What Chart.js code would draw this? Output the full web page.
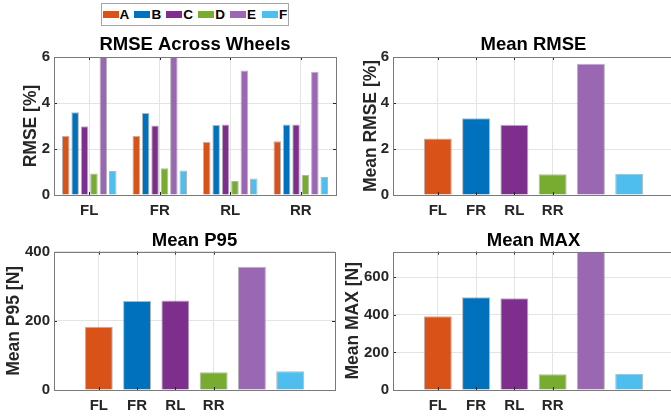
<!DOCTYPE html>
<html>
<head>
<meta charset="utf-8">
<script src="https://cdn.jsdelivr.net/npm/chart.js@4/dist/chart.umd.min.js"></script>
<style>
  html, body { margin: 0; padding: 0; background: #fff; overflow: hidden; }
  #fig { position: relative; width: 671px; height: 417px; overflow: hidden; background: #fff; }
  #fig canvas { position: absolute; }
  #legend {
    position: absolute; left: 101px; top: 3px; width: 185px; height: 21px;
    border: 1px solid #a6a6a6; background: #fff; box-sizing: content-box;
    display: flex; align-items: center; padding-left: 0.5px; z-index: 2;
    font: bold 13.5px "Liberation Sans", Arial, sans-serif; color: #000;
  }
  #legend .item { display: flex; align-items: center; width: 31.9px; flex: none; }
  #legend .item:last-child { width: auto; }
  #legend .swatch { display: inline-block; width: 16px; height: 7px; margin-right: 1px; }
</style>
</head>
<body>
<div id="fig">
  <div id="legend"></div>
  <canvas id="cWheels" width="340" height="220" style="left:0;top:0"></canvas>
  <canvas id="cMeanRmse" width="340" height="220" style="left:340px;top:0"></canvas>
  <canvas id="cMeanP95" width="340" height="197" style="left:0;top:220px"></canvas>
  <canvas id="cMeanMax" width="340" height="197" style="left:340px;top:220px"></canvas>
</div>
<script>
// ---- data ----
const wheels = ['FL', 'FR', 'RL', 'RR'];
const methods = ['A', 'B', 'C', 'D', 'E', 'F'];

// RMSE [%] per method, one value per wheel (FL, FR, RL, RR)
const rmseA = [2.56, 2.56, 2.30, 2.34];
const rmseB = [3.60, 3.57, 3.04, 3.07];
const rmseC = [2.99, 3.02, 3.06, 3.07];
const rmseD = [0.93, 1.16, 0.61, 0.87];
const rmseE = [6.00, 6.00, 5.41, 5.36];
const rmseF = [1.04, 1.07, 0.72, 0.78];

// means over the four wheels, one value per method (A..F)
const meanRmse = [2.46, 3.34, 3.05, 0.90, 5.71, 0.92];
const meanP95  = [183, 257, 259, 51, 356, 54];
const meanMax  = [392, 493, 488, 84, 736, 87];

// y-axis ticks
const rmseTicks = [0, 2, 4, 6];
const p95Ticks  = [0, 200, 400];
const maxTicks  = [0, 200, 400, 600];

// ---- styling ----
const methodColors = ['#D95319', '#0072BD', '#7E2F8E', '#77AC30', '#9A67B3', '#4DBEEE'];
const edgeColor = 'rgba(120,120,120,0.55)';
const gridColor = '#e4e4e4';
const inkColor = '#262626';
const FAMILY = '"Liberation Sans", Arial, Helvetica, sans-serif';
const titleFont = { family: FAMILY, size: 18.5, weight: 'bold' };
const labelFont = { family: FAMILY, size: 17.5, weight: 'bold' };
const tickFont  = { family: FAMILY, size: 15, weight: 'bold' };

// legend rendered as HTML from the chart's own legend items
const htmlLegend = {
  id: 'htmlLegend',
  afterUpdate(chart, args, opts) {
    const box = document.getElementById(opts.containerID);
    if (!box) return;
    box.innerHTML = '';
    chart.options.plugins.legend.labels.generateLabels(chart).forEach(item => {
      const el = document.createElement('div');
      el.className = 'item';
      const sw = document.createElement('span');
      sw.className = 'swatch';
      sw.style.background = item.fillStyle;
      const tx = document.createElement('span');
      tx.textContent = item.text;
      el.append(sw, tx);
      box.append(el);
    });
  }
};

// closed axes box with short inward tick marks on all four sides
const axesBox = {
  id: 'axesBox',
  afterDatasetsDraw(chart, args, opts) {
    const { ctx, chartArea: a, scales } = chart;
    const L = opts.tickLength;
    ctx.save();
    ctx.lineWidth = 1;
    ctx.strokeStyle = opts.tickColor;
    ctx.beginPath();
    scales.x.ticks.forEach((t, i) => {
      const px = Math.round(scales.x.getPixelForTick(i)) + 0.5;
      ctx.moveTo(px, a.bottom); ctx.lineTo(px, a.bottom - L);
      ctx.moveTo(px, a.top);    ctx.lineTo(px, a.top + L);
    });
    scales.y.ticks.forEach((t, i) => {
      const py = Math.round(scales.y.getPixelForTick(i)) + 0.5;
      ctx.moveTo(a.left, py);  ctx.lineTo(a.left + L, py);
      ctx.moveTo(a.right, py); ctx.lineTo(a.right - L, py);
    });
    ctx.stroke();
    ctx.strokeStyle = opts.color;
    ctx.strokeRect(Math.round(a.left) + 0.5, Math.round(a.top) + 0.5,
                   Math.round(a.right - a.left), Math.round(a.bottom - a.top));
    ctx.restore();
  }
};

function baseOptions(p) {
  return {
    responsive: false,
    animation: false,
    devicePixelRatio: 1,
    layout: { padding: { left: 0, right: p.padRight, top: 0, bottom: 0 } },
    plugins: {
      legend: { display: false },
      tooltip: { enabled: false },
      title: {
        display: true, text: p.title, font: titleFont, color: '#000',
        fullSize: false,
        padding: { top: p.titleTop, bottom: p.titleBottom }
      },
      htmlLegend: { containerID: p.legendId || null },
      axesBox: { color: '#7a7a7a', tickColor: inkColor, tickLength: 3 }
    },
    scales: {
      x: p.x,
      y: {
        type: 'linear', min: 0, max: p.yMax,
        afterBuildTicks: s => { s.ticks = p.yTicks.map(v => ({ value: v })); },
        grid: { color: gridColor, drawTicks: false },
        border: { display: false },
        ticks: { font: tickFont, color: inkColor, padding: 4 },
        title: {
          display: true, text: p.yLabel, font: labelFont, color: inkColor,
          padding: { top: p.yLabelPad, bottom: 0 }
        },
        afterFit: s => { s.width = p.yWidth; }
      }
    }
  };
}

function xAxisCommon(height) {
  return {
    grid: { color: gridColor, drawTicks: false, offset: false },
    border: { display: false },
    ticks: { font: tickFont, color: inkColor, padding: 7, autoSkip: false, maxRotation: 0 },
    afterFit: s => { s.height = height; }
  };
}

// per-wheel grouped bars
const wheelsX = Object.assign({ type: 'category', offset: true }, xAxisCommon(25));
new Chart(document.getElementById('cWheels'), {
  type: 'bar',
  data: {
    labels: wheels,
    datasets: [rmseA, rmseB, rmseC, rmseD, rmseE, rmseF].map((vals, k) => ({
      label: methods[k],
      data: vals,
      backgroundColor: methodColors[k],
      borderColor: edgeColor,
      borderWidth: 1,
      categoryPercentage: 0.8,
      barPercentage: 0.8
    }))
  },
  options: baseOptions({
    title: 'RMSE Across Wheels', titleTop: 34.2, titleBottom: 0.6,
    yLabel: 'RMSE [%]', yLabelPad: 21, yWidth: 54, padRight: 4,
    yMax: 6, yTicks: rmseTicks, x: wheelsX, legendId: 'legend'
  }),
  plugins: [htmlLegend, axesBox]
});

// one bar per method on a numeric axis; wheel names sit under the first four slots
function meanChart(id, values, p) {
  const x = Object.assign({
    type: 'linear', min: -0.17, max: 7.17, offset: false,
    afterBuildTicks: s => { s.ticks = wheels.map((w, i) => ({ value: i + 1 })); }
  }, xAxisCommon(p.xHeight));
  x.ticks.callback = (v, i) => wheels[i];
  return new Chart(document.getElementById(id), {
    type: 'bar',
    data: {
      datasets: [{
        label: p.title,
        data: values.map((v, i) => ({ x: i + 1, y: v })),
        backgroundColor: methodColors,
        borderColor: edgeColor,
        borderWidth: 1,
        categoryPercentage: 1,
        barPercentage: 0.73
      }]
    },
    options: baseOptions(Object.assign({ x }, p)),
    plugins: [axesBox]
  });
}

meanChart('cMeanRmse', meanRmse, {
  title: 'Mean RMSE', titleTop: 34.2, titleBottom: 0.6,
  yLabel: 'Mean RMSE [%]', yLabelPad: 21, yWidth: 53, padRight: 6,
  yMax: 6, yTicks: rmseTicks, xHeight: 25
});
meanChart('cMeanP95', meanP95, {
  title: 'Mean P95', titleTop: 9.4, titleBottom: 0,
  yLabel: 'Mean P95 [N]', yLabelPad: 3.5, yWidth: 54, padRight: 5,
  yMax: 400, yTicks: p95Ticks, xHeight: 27
});
meanChart('cMeanMax', meanMax, {
  title: 'Mean MAX', titleTop: 9.4, titleBottom: 0,
  yLabel: 'Mean MAX [N]', yLabelPad: 2.5, yWidth: 53, padRight: 6,
  yMax: 736, yTicks: maxTicks, xHeight: 27
});
</script>
</body>
</html>
